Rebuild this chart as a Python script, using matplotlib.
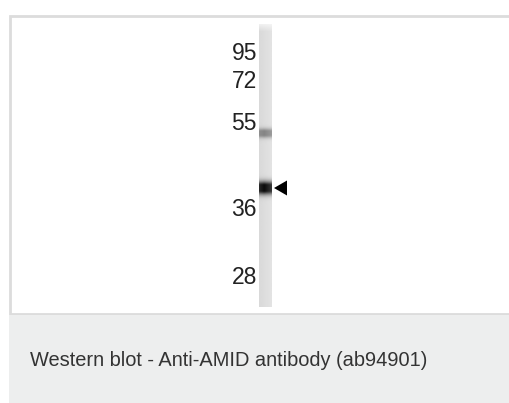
import numpy as np
import matplotlib.pyplot as plt
from matplotlib.patches import Rectangle, Polygon

# marker ladder (kDa) and where each one sits along the lane (px from top of image)
ladder_kda = ['95', '72', '55', '36', '28']
ladder_pos = [53, 82, 123, 210, 277]

# bands seen in the lane: migration position and darkness (0..1)
band_pos = [133, 188]
band_strength = [0.4, 0.95]
band_width = [3.0, 4.2]

caption = 'Western blot - Anti-AMID antibody (ab94901)'

plt.rcParams['font.family'] = ['Liberation Sans', 'DejaVu Sans']

fig = plt.figure(figsize=(5.1, 4.03), dpi=100)
ax = fig.add_axes([0, 0, 1, 1])

# frame of the image panel and grey caption strip
ax.add_patch(Rectangle((10, 16), 520, 298, facecolor='white',
                       edgecolor='#dcdcdc', linewidth=2, zorder=1))
ax.add_patch(Rectangle((9, 315), 510, 88, facecolor='#edeeee',
                       edgecolor='none', zorder=1))

# lane: grey strip with blurred bands
lane_top, lane_bot = 24, 307
lane_x0, lane_x1 = 259, 272
ys = np.arange(lane_top, lane_bot + 1)
xs = np.linspace(0, 1, 14)
col = 0.85 + 0.04 * xs  # slightly lighter to the right
img = np.tile(col, (len(ys), 1))
img[:8] = img[:8] + (1 - img[:8]) * np.linspace(0.6, 0, 8)[:, None]
for p, s, w in zip(band_pos, band_strength, band_width):
    prof = np.minimum(1.0, 1.4 * s * np.exp(-0.5 * ((ys - p) / w) ** 2))
    prof = np.minimum(prof, s)
    horiz = 1 - 0.35 * np.abs(xs - 0.4)
    img = img * (1 - prof[:, None] * horiz[None, :])
ax.imshow(img, cmap='gray', vmin=0, vmax=1, aspect='auto',
          extent=(lane_x0, lane_x1, lane_bot, lane_top),
          interpolation='bilinear', zorder=2)
ax.set_xlim(0, 510)
ax.set_ylim(403, 0)
ax.axis('off')

for lab, y in zip(ladder_kda, ladder_pos):
    ax.text(257, y, lab, ha='right', va='center', fontsize=16.5,
            color='#222222', zorder=3)

# arrow pointing at the main band
main = band_pos[int(np.argmax(band_strength))]
ax.add_patch(Polygon([(274, main), (287, main - 7.5), (287, main + 7.5)],
                     closed=True, facecolor='black', edgecolor='none',
                     zorder=3))

ax.text(30, 360, caption, ha='left', va='center', fontsize=14.4,
        color='#333333', zorder=3)

fig.savefig('out.png', dpi=100)
